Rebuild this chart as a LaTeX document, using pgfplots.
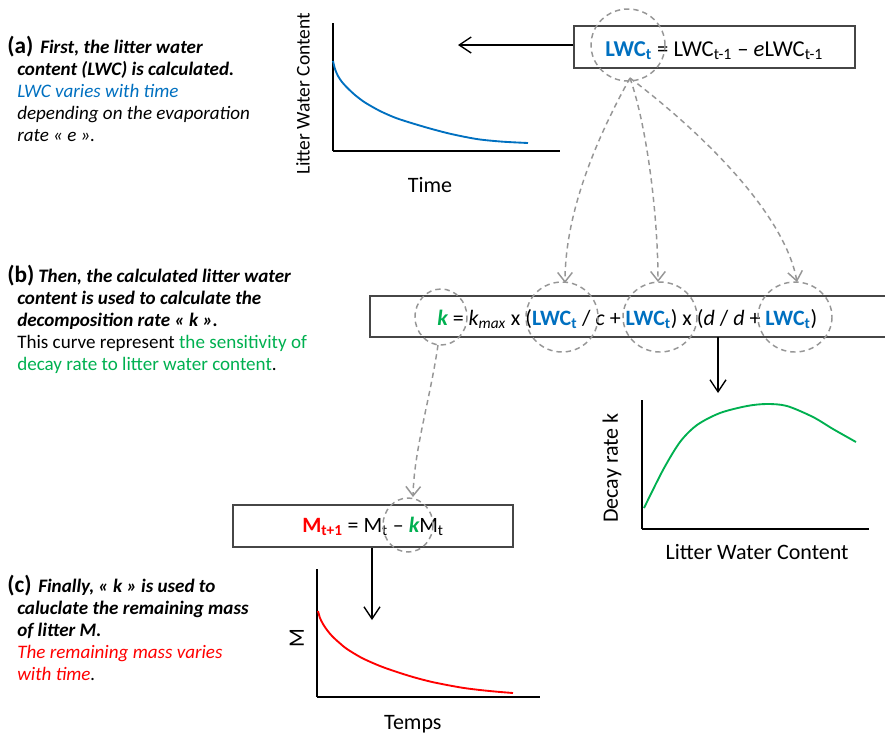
\documentclass[border=0pt]{standalone}
\usepackage{pgfplots}
\pgfplotsset{compat=1.18}
\usepackage{fontspec}
\setmainfont{Carlito}
\usetikzlibrary{arrows.meta}
\definecolor{lwcblue}{RGB}{0,112,192}
\definecolor{kgreen}{RGB}{0,176,80}
\definecolor{mred}{RGB}{255,0,0}
\definecolor{dashgray}{RGB}{150,150,150}
\definecolor{boxgray}{RGB}{70,70,70}

\pgfplotsset{
  diag/.style={scale only axis, anchor=south west, axis lines=left,
    axis line style={-, line width=1.6pt, black},
    xtick=\empty, ytick=\empty, xmin=0, ymin=0, clip=false},
}
\newcommand{\lbl}[1]{\fontsize{#1}{#1}\selectfont}

\begin{document}
\begin{tikzpicture}[x=0.75pt, y=-0.75pt]
\useasboundingbox (0,0) rectangle (885,733);

\begin{scope}[x=1pt, y=1pt]
% (a) litter water content over time
\begin{axis}[diag, at={(249.75pt,-113.25pt)}, width=170.25pt, height=96pt, xmax=227, ymax=128,
  ylabel={Litter Water Content}, ylabel style={font=\lbl{14.6}, at={(axis description cs:-0.132,0.445)}, anchor=center},
  xlabel={Time}, xlabel style={font=\lbl{16.5}, at={(axis description cs:0.427,-0.328)}, anchor=base}]
\addplot[lwcblue, line width=1.4pt, smooth] coordinates {
  (0,90)(2,82)(5,75)(9,69)(14,63.5)(22,56)(32,48.5)(47,40)(63,33)(80,27.5)
  (97,22.5)(114,18)(130,14.5)(147,11.5)(170,9.3)(195,8)};
\end{axis}

% (b) decay rate vs litter water content
\begin{axis}[diag, at={(481.5pt,-396.75pt)}, width=170.25pt, height=96.75pt, xmax=227, ymax=129,
  ylabel={Decay rate k}, ylabel style={font=\lbl{16.5}, at={(axis description cs:-0.132,0.473)}, anchor=center},
  xlabel={Litter Water Content}, xlabel style={font=\lbl{16.5}, at={(axis description cs:0.507,-0.24)}, anchor=base}]
\addplot[kgreen, line width=1.4pt, smooth] coordinates {
  (2,21)(21,59)(38,87)(55,104)(78,116)(105,123)(125,125)(145,123)(171,112)(191,100)(214,87)};
\end{axis}

% (c) remaining mass over time
\begin{axis}[diag, at={(237.75pt,-522.75pt)}, width=167.25pt, height=96pt, xmax=223, ymax=128,
  ylabel={M}, ylabel style={font=\lbl{16.5}, at={(axis description cs:-0.09,0.46)}, anchor=center},
  xlabel={Temps}, xlabel style={font=\lbl{16.5}, at={(axis description cs:0.43,-0.25)}, anchor=base}]
\addplot[mred, line width=1.4pt, smooth] coordinates {
  (1,86)(3,79)(6,73)(10,67)(15,61)(22,54.5)(30,48)(45,39)(63,31)(80,25)
  (96,20)(113,15.5)(130,12)(147,9)(163,7)(180,5.3)(196,4)};
\end{axis}
\end{scope}

% equation boxes
\draw[boxgray, line width=1.1pt] (574,26) rectangle (855,68);
\draw[boxgray, line width=1.1pt] (370,296) rectangle (892,337);
\draw[boxgray, line width=1.1pt] (233,505) rectangle (513,547);

\node[anchor=base west, inner sep=0, font=\lbl{17}] at (605,56)
  {{\color{lwcblue}\bfseries LWC\textsubscript{t}} = LWC\textsubscript{t-1} – \textit{e}LWC\textsubscript{t-1}};
\node[anchor=base west, inner sep=0, font=\lbl{16.45}] at (437,325)
  {{\color{kgreen}\bfseries\itshape k} = \textit{k\textsubscript{max}} x ({\color{lwcblue}\bfseries LWC\textsubscript{t}} / \textit{c} + {\color{lwcblue}\bfseries LWC\textsubscript{t}}) x (\textit{d} / \textit{d} + {\color{lwcblue}\bfseries LWC\textsubscript{t}})};
\node[anchor=base west, inner sep=0, font=\lbl{16.4}] at (302,532)
  {{\color{mred}\bfseries M\textsubscript{t+1}} = M\textsubscript{t} – {\color{kgreen}\bfseries\itshape k}M\textsubscript{t}};

% dashed circles and links
\begin{scope}[dashgray, line width=1.1pt, dash pattern=on 4pt off 3pt]
\draw (628,45) ellipse [x radius=37, y radius=36];
\draw (441,317) ellipse [x radius=26, y radius=28];
\draw (562,317) ellipse [x radius=36, y radius=35];
\draw (660,317) ellipse [x radius=37, y radius=35];
\draw (795,317) ellipse [x radius=37, y radius=35];
\draw (408,525) ellipse [x radius=25, y radius=27];
\draw[-{Straight Barb[length=7pt, width=11pt]}] (630,78) .. controls (590,150) and (565,220) .. (565,283);
\draw[-{Straight Barb[length=7pt, width=11pt]}] (630,78) .. controls (648,130) and (658,220) .. (658,282);
\draw[-{Straight Barb[length=7pt, width=11pt]}] (630,78) .. controls (705,135) and (785,215) .. (797,282);
\draw[-{Straight Barb[length=7pt, width=11pt]}] (438,345) .. controls (430,400) and (414,450) .. (413,497);
\end{scope}

% solid arrows
\begin{scope}[black, line width=1pt]
\draw[-{Straight Barb[length=9pt, width=12pt]}] (573,45) -- (458,45);
\draw[-{Straight Barb[length=9pt, width=12pt]}] (718,337) -- (718,393);
\draw[-{Straight Barb[length=9pt, width=12pt]}] (372,548) -- (372,620);
\end{scope}

% explanatory text
\tikzset{txt/.style={anchor=base west, inner sep=0, font=\lbl{14.3}}}
\node[txt, font=\lbl{17.5}\bfseries] at (7,53) {(a)};
\node[txt, font=\lbl{14.3}\bfseries\itshape] at (40,53) {First, the litter water};
\node[txt, font=\lbl{14.3}\bfseries\itshape] at (17,75) {content (LWC) is calculated.};
\node[txt, font=\lbl{14.3}\itshape, lwcblue] at (17,97) {LWC varies with time};
\node[txt, font=\lbl{14.3}\itshape] at (17,119) {depending on the evaporation};
\node[txt, font=\lbl{14.3}\itshape] at (17,141) {rate « e ».};

\node[txt, font=\lbl{17.5}\bfseries] at (7,282) {(b)};
\node[txt, font=\lbl{14.3}\bfseries\itshape] at (38,282) {Then, the calculated litter water};
\node[txt, font=\lbl{14.3}\bfseries\itshape] at (17,304) {content is used to calculate the};
\node[txt, font=\lbl{14.3}\bfseries\itshape] at (17,326) {decomposition rate « k ».};
\node[txt] at (17,348) {This curve represent {\color{kgreen}the sensitivity of}};
\node[txt] at (17,370) {{\color{kgreen}decay rate to litter water content}.};

\node[txt, font=\lbl{17.5}\bfseries] at (7,592) {(c)};
\node[txt, font=\lbl{14.3}\bfseries\itshape] at (38,592) {Finally, « k » is used to};
\node[txt, font=\lbl{14.3}\bfseries\itshape] at (17,614) {caluclate the remaining mass};
\node[txt, font=\lbl{14.3}\bfseries\itshape] at (17,636) {of litter M.};
\node[txt, font=\lbl{14.3}\itshape, mred] at (17,658) {The remaining mass varies};
\node[txt, font=\lbl{14.3}\itshape] at (17,680) {{\color{mred}with time}.};
\end{tikzpicture}
\end{document}
